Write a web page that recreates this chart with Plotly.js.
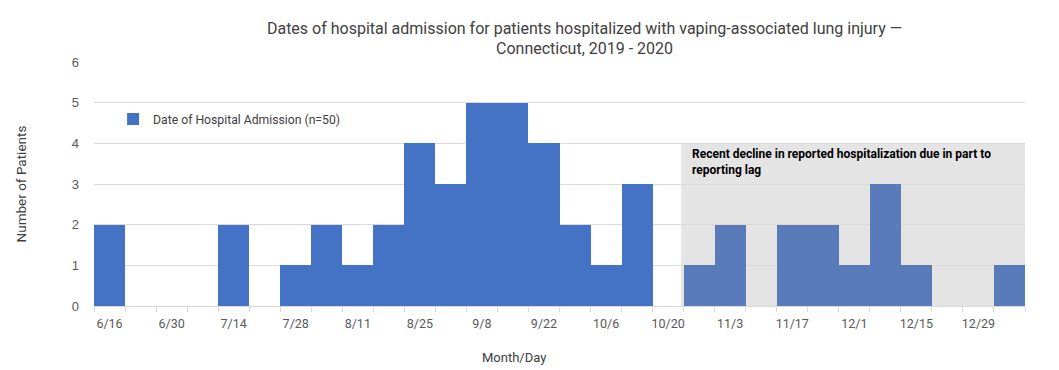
<!DOCTYPE html>
<html><head><meta charset="utf-8">
<script src="https://cdn.plot.ly/plotly-3.0.1.min.js"></script>
<style>html,body{margin:0;padding:0;background:#fff}</style>
</head><body>
<div id="chart" style="width:1059px;height:370px"></div>
<script>
const weeks = ["6/16","6/23","6/30","7/7","7/14","7/21","7/28","8/4","8/11","8/18","8/25","9/1","9/8","9/15","9/22","9/29","10/6","10/13","10/20","10/27","11/3","11/10","11/17","11/24","12/1","12/8","12/15","12/22","12/29","1/5"];
const patients = [2,0,0,0,2,0,1,2,1,2,4,3,5,5,4,2,1,3,0,1,2,0,2,2,1,3,1,0,0,1];
const tickLabels = ["6/16","","6/30","","7/14","","7/28","","8/11","","8/25","","9/8","","9/22","","10/6","","10/20","","11/3","","11/17","","12/1","","12/15","","12/29",""];
const lagStartIndex = 19;
const seriesName = "Date of Hospital Admission (n=50)";
const noteText = "Recent decline in reported hospitalization due in part to<br>reporting lag";

const FONT = "Roboto, 'DejaVu Sans', sans-serif";
const colors = weeks.map((w,i)=> i>=lagStartIndex ? "#5a7bba" : "#4472c4");

const trace = {
  type:"bar", x:weeks, y:patients, name:seriesName,
  marker:{color:colors, line:{width:0}},
  showlegend:true, hoverinfo:"x+y"
};

const layout = {
  width:1059, height:370,
  margin:{l:94, r:34, t:62, b:64},
  paper_bgcolor:"#fff", plot_bgcolor:"#fff",
  font:{family:FONT, color:"#595959", size:13},
  title:{text:"Dates of hospital admission for patients hospitalized with vaping-associated lung injury —<br>Connecticut, 2019 - 2020",
         font:{family:FONT, size:16, color:"#404040"}, x:0.552, xanchor:"center", y:0.909, yanchor:"top"},
  bargap:0,
  showlegend:true,
  legend:{x:0.0205, y:0.826, xanchor:"left", yanchor:"top", bgcolor:"rgba(0,0,0,0)",
          font:{family:FONT, size:12.2, color:"#404040"}, itemwidth:30},
  xaxis:{type:"category", categoryorder:"array", categoryarray:weeks,
         tickmode:"array", tickvals:weeks, ticktext:tickLabels, tickson:"boundaries",
         ticks:"outside", ticklen:5, tickcolor:"#d9d9d9", tickangle:0, ticklabelstandoff:6,
         showline:true, linecolor:"#d9d9d9", showgrid:false, range:[-0.5,29.5],
         tickfont:{family:FONT, size:12.5, color:"#595959"}},
  yaxis:{range:[0,6], dtick:1, showgrid:true, gridcolor:"#d9d9d9", zeroline:false,
         showline:false, ticks:"", tickfont:{family:"Liberation Sans, Arial, sans-serif", size:13, color:"#595959"},
         ticklabelstandoff:14,
         title:{text:"Number of Patients", font:{family:FONT, size:13.5, color:"#404040"}, standoff:42}},
  shapes:[{type:"rect", xref:"x", yref:"y", x0:18.42, x1:29.56, y0:0, y1:4,
           fillcolor:"#e4e4e4", line:{width:0}, layer:"below"}],
  annotations:[
    {xref:"x", yref:"y", x:18.7, y:3.95, xanchor:"left", yanchor:"top", align:"left",
     text:"<b>"+noteText+"</b>", showarrow:false,
     font:{family:FONT, size:12, color:"#000"}},
    {xref:"paper", yref:"paper", x:(514-94)/931, y:-(357-306)/244, xanchor:"center", yanchor:"middle",
     text:"Month/Day", showarrow:false, font:{family:FONT, size:13, color:"#404040"}}
  ]
};

Plotly.newPlot("chart",[trace],layout,{displayModeBar:false, staticPlot:true});
</script>
</body></html>
